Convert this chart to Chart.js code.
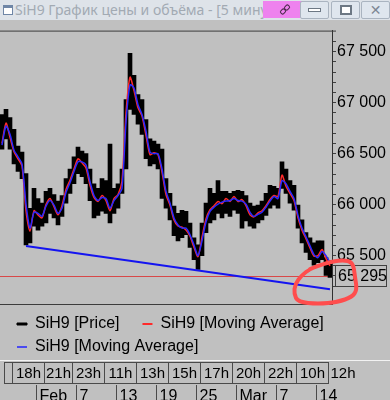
<!DOCTYPE html>
<html>
<head>
<meta charset="utf-8">
<script src="https://cdn.jsdelivr.net/npm/chart.js@4.4.1/dist/chart.umd.min.js"></script>
<style>
  body { margin: 0; width: 390px; height: 400px; overflow: hidden; background: #c0c0c0; }
  #titlebar { position: absolute; left: 0; top: 0; width: 390px; height: 20px; background: #dee3e9; overflow: hidden; }
  #titlebar .icon { position: absolute; left: 3px; top: 5px; width: 8px; height: 6px; border: 1px solid #6f86a6; border-top-width: 3px; background: #fff; }
  #titlebar .title { position: absolute; left: 15px; top: 0; line-height: 20px; font: 14px "Noto Sans", sans-serif; color: #a2aab3; white-space: nowrap; }
  #titlebar .pin { position: absolute; left: 263px; top: 1px; width: 42px; height: 17px; background: #ee82ee; }
  #titlebar .pin i { position: absolute; width: 4px; height: 3px; border: 1.5px solid #4a2a4a; border-radius: 2px; transform: rotate(-45deg); }
  .btn { position: absolute; top: 1px; width: 27px; height: 16px; border: 1px solid #aab4c0; background: #dfe6ee; border-radius: 2px; }
  .btn.min i { position: absolute; left: 7px; top: 6px; width: 11px; height: 2px; border: 1px solid #6d7884; background: #fff; }
  .btn.max i { position: absolute; left: 8px; top: 3px; width: 8px; height: 6px; border: 2px solid #6d7884; background: #fff; }
  .btn.close { font: bold 14px "DejaVu Sans", sans-serif; color: #7c8794; text-align: center; line-height: 16px; }
  #wrap { position: absolute; left: 0; top: 20px; width: 390px; height: 380px; }
</style>
</head>
<body>
<div id="titlebar">
  <div class="icon"></div>
  <div class="title">SiH9 График цены и объёма - [5 минут]</div>
  <div class="pin"><i style="left:17px;top:8px"></i><i style="left:21px;top:4px"></i></div>
  <div class="btn min" style="left:300px"><i></i></div>
  <div class="btn max" style="left:331px"><i></i></div>
  <div class="btn close" style="left:361px">✕</div>
</div>
<div id="wrap"><canvas id="chart" width="390" height="380"></canvas></div>
<script>
// 5-minute bars (high / low of each bar)
const priceHigh = [
  66885, 66935, 66855, 66740, 66575, 66515, 66305, 65965, 66160, 66060,
  66015, 66130, 66160, 66100, 66035, 66090, 66255, 66350, 66470, 66565,
  66525, 66500, 66350, 66205, 66160, 66255, 66235, 66595, 66160, 66205,
  66350, 67030, 67485, 67270, 67080, 67030, 66835, 66645, 66625, 66595,
  66545, 66255, 66110, 65985, 65915, 65945, 65935, 65820, 65675, 65605,
  65820, 66015, 66160, 66110, 66235, 66130, 66130, 66110, 66130, 66140,
  66130, 66090, 66015, 65985, 65995, 66035, 66110, 66190, 66180, 66160,
  66420, 66350, 66235, 66190, 65995, 65850, 65725, 65675, 65625, 65645,
  65645, 65480, 65450
];
const priceLow = [
  66545, 66645, 66545, 66400, 66325, 66255, 65605, 65625, 65790, 65750,
  65790, 65820, 65915, 65870, 65800, 65885, 66015, 66110, 66205, 66305,
  66275, 66205, 66040, 65870, 65895, 65935, 65915, 65820, 65915, 65965,
  66110, 66350, 66935, 66885, 66790, 66690, 66450, 66380, 66400, 66350,
  66060, 65965, 65850, 65695, 65645, 65675, 65705, 65580, 65460, 65365,
  65500, 65725, 65820, 65850, 65915, 65870, 65915, 65885, 65945, 65915,
  65770, 65840, 65790, 65770, 65820, 65850, 65895, 65965, 65995, 65965,
  66160, 66110, 66015, 65945, 65770, 65625, 65530, 65460, 65405, 65430,
  65460, 65305, 65285
];
// fast moving average (red)
const maRed = [
  66600, 66800, 66660, 66520, 66450, 66380, 65940, 65740, 65940, 65900,
  65870, 66000, 66060, 65980, 65900, 65990, 66150, 66240, 66350, 66450,
  66410, 66360, 66190, 66070, 66030, 66090, 66040, 65940, 66060, 66100,
  66230, 66900, 67250, 67120, 66950, 66870, 66680, 66490, 66510, 66490,
  66320, 66100, 65995, 65850, 65790, 65780, 65750, 65690, 65580, 65490,
  65680, 65860, 65950, 65990, 66030, 66010, 66060, 66030, 66080, 66030,
  66050, 65990, 65900, 65880, 65920, 65940, 65990, 66050, 66090, 66080,
  66290, 66180, 66110, 66040, 65870, 65750, 65665, 65575, 65495, 65500,
  65560, 65470, 65400
];
// slower moving average (blue)
const maBlue = [
  66585, 66770, 66690, 66535, 66470, 66400, 66005, 65770, 65925, 65915,
  65885, 65985, 66040, 65995, 65915, 65965, 66120, 66215, 66325, 66420,
  66420, 66390, 66225, 66090, 66040, 66070, 66060, 65965, 66040, 66090,
  66160, 66810, 67175, 67145, 66980, 66885, 66720, 66515, 66500, 66500,
  66350, 66130, 66015, 65870, 65800, 65770, 65770, 65705, 65605, 65500,
  65645, 65830, 65935, 65975, 66005, 66025, 66035, 66040, 66060, 66040,
  66035, 66005, 65925, 65885, 65905, 65925, 65975, 66035, 66080, 66060,
  66235, 66205, 66130, 66060, 65895, 65770, 65685, 65595, 65510, 65480,
  65540, 65500, 65430
];
// support line drawn by hand on the chart
const trendIdx = [6, 82];
const trendVal = [65595, 65170];
const lastPrice = 65295;
const yMin = 65025, yMax = 67708;

const hourLabels = ['', '18h', '21h', '23h', '11h', '13h', '15h', '17h', '20h', '22h', '10h', '12h'];
const hourIdx = [1, 3, 11, 18, 26, 34, 42, 50, 58, 66, 74, 82];
const dateLabels = ['Feb', '7', '13', '19', '25', 'Mar', '7', '14'];
const dateIdx = [9, 19, 29, 39, 49, 59, 69, 79];

const family = '"Liberation Sans", Arial, sans-serif';
const fmt = v => String(v).replace(/\B(?=(\d{3})+(?!\d))/g, ' ');

const labels = priceHigh.map((_, i) => i);
const trend = labels.map(i => {
  const k = trendIdx.indexOf(i);
  return k < 0 ? null : trendVal[k];
});

const terminal = {
  id: 'terminal',
  afterLayout(chart) {
    // legend sits a little right/down in the original window
    const lg = chart.legend;
    lg.left += 10; lg.right += 10;
    lg.top += 5; lg.bottom += 5;
  },
  beforeDatasetsDraw(chart) {
    const { ctx, chartArea: a, scales: { y } } = chart;
    const py = Math.round(y.getPixelForValue(lastPrice)) + 0.5;
    ctx.save();
    ctx.strokeStyle = '#d84848';
    ctx.lineWidth = 1;
    ctx.beginPath();
    ctx.moveTo(a.left, py);
    ctx.lineTo(a.right, py);
    ctx.stroke();
    ctx.restore();
  },
  afterDraw(chart) {
    const { ctx, chartArea: a, scales: { x, y } } = chart;
    ctx.save();
    ctx.lineWidth = 1;

    // plot frame
    ctx.strokeStyle = '#3c3c3c';
    ctx.beginPath();
    ctx.moveTo(a.left, a.top + 0.5); ctx.lineTo(a.right + 4, a.top + 0.5);
    ctx.moveTo(a.left, a.bottom + 0.5); ctx.lineTo(a.right, a.bottom + 0.5);
    ctx.stroke();

    // last price box on the axis
    const py = Math.round(y.getPixelForValue(lastPrice));
    ctx.fillStyle = '#c0c0c0';
    ctx.fillRect(a.right + 3, py - 10, 51, 21);
    ctx.strokeStyle = '#404040';
    ctx.strokeRect(a.right + 3.5, py - 10.5, 51, 21);
    ctx.fillStyle = '#000';
    ctx.font = '16px ' + family;
    ctx.textAlign = 'left';
    ctx.textBaseline = 'middle';
    ctx.fillText(fmt(lastPrice), a.right + 6, py + 1);

    // time axis: hour cells and date row
    const half = (x.getPixelForValue(1) - x.getPixelForValue(0)) / 2;
    const edge = i => Math.round(x.getPixelForValue(i) - half) + 0.5;
    const top = chart.height - 40;
    ctx.strokeStyle = '#f2f2f2';
    ctx.beginPath(); ctx.moveTo(0, top + 0.5); ctx.lineTo(chart.width, top + 0.5); ctx.stroke();
    ctx.strokeStyle = '#4a4a4a';
    ctx.font = '15px ' + family;
    hourIdx.forEach((k, j) => {
      const x0 = edge(k);
      if (j < hourIdx.length - 1) {
        const x1 = edge(hourIdx[j + 1]);
        ctx.strokeRect(x0, top + 2.5, x1 - x0, 21);
        ctx.textAlign = 'center';
        ctx.fillText(hourLabels[j], (x0 + x1) / 2, top + 14);
      } else {
        ctx.beginPath(); ctx.moveTo(x0, top + 2.5); ctx.lineTo(x0, top + 23.5); ctx.stroke();
        ctx.textAlign = 'left';
        ctx.fillText(hourLabels[j], x0 + 2, top + 14);
      }
    });
    ctx.font = '16px ' + family;
    ctx.textAlign = 'left';
    ctx.textBaseline = 'alphabetic';
    dateIdx.forEach((k, j) => {
      const x0 = edge(k);
      ctx.beginPath(); ctx.moveTo(x0, top + 25); ctx.lineTo(x0, chart.height); ctx.stroke();
      ctx.fillText(dateLabels[j], x0 + 3, top + 41);
    });

    // hand-drawn red loop around the last bars (offsets from the last price point)
    const ax = x.getPixelForValue(labels.length - 1);
    const loop = [[-20, -7], [-5, -13], [12, -16], [23, -14], [25, 1], [27, 14], [22, 21], [8, 26],
                  [-12, 28], [-32, 26], [-36, 18], [-35, 8], [-28, -1], [-20, -7], [-8, -12]];
    ctx.strokeStyle = '#ff4d4d';
    ctx.lineWidth = 4;
    ctx.lineCap = 'round';
    ctx.lineJoin = 'round';
    ctx.beginPath();
    ctx.moveTo(ax + loop[0][0], py + loop[0][1]);
    for (let i = 1; i < loop.length - 1; i++) {
      const mx = (loop[i][0] + loop[i + 1][0]) / 2, my = (loop[i][1] + loop[i + 1][1]) / 2;
      ctx.quadraticCurveTo(ax + loop[i][0], py + loop[i][1], ax + mx, py + my);
    }
    ctx.stroke();
    ctx.restore();
  }
};

const ctx = document.getElementById('chart').getContext('2d');
new Chart(ctx, {
  type: 'bar',
  data: {
    labels: labels,
    datasets: [
      {
        type: 'bar',
        label: 'SiH9 [Price]',
        data: priceHigh.map((h, i) => [priceLow[i], h]),
        backgroundColor: '#000',
        borderWidth: 0,
        barPercentage: 1,
        categoryPercentage: 1,
        order: 4
      },
      {
        type: 'line',
        label: 'SiH9 [Moving Average]',
        data: maRed,
        borderColor: '#ff2a2a',
        backgroundColor: '#ff2a2a',
        borderWidth: 1.5,
        pointRadius: 0,
        tension: 0.25,
        order: 3
      },
      {
        type: 'line',
        label: 'SiH9 [Moving Average]',
        data: maBlue,
        borderColor: '#2a2aff',
        backgroundColor: '#4a4af0',
        borderWidth: 1.5,
        pointRadius: 0,
        tension: 0.25,
        order: 2
      },
      {
        type: 'line',
        label: 'trend',
        data: trend,
        borderColor: '#1414f0',
        borderWidth: 2,
        pointRadius: 0,
        spanGaps: true,
        order: 1
      }
    ]
  },
  options: {
    responsive: false,
    animation: false,
    devicePixelRatio: 1,
    layout: { padding: { top: 10, left: 0, right: 0, bottom: 40 } },
    scales: {
      x: { display: false },
      y: {
        position: 'right',
        min: yMin,
        max: yMax,
        border: { color: '#303030' },
        grid: { drawOnChartArea: false, tickLength: 4, color: '#404040' },
        afterBuildTicks: s => { s.ticks = s.ticks.filter(t => t.value % 100 === 0); },
        afterFit: s => { s.width = 58; },
        ticks: {
          stepSize: 100,
          autoSkip: false,
          padding: 1,
          color: '#000',
          font: { size: 16, family: family },
          callback: v => (v % 500 === 0 ? fmt(v) : '')
        }
      }
    },
    plugins: {
      tooltip: { enabled: false },
      legend: {
        position: 'bottom',
        align: 'start',
        labels: {
          color: '#000',
          font: { size: 16, family: family },
          boxWidth: 10,
          boxHeight: 2,
          padding: 7,
          filter: item => item.datasetIndex < 3,
          sort: (a, b) => a.datasetIndex - b.datasetIndex,
          generateLabels: chart => Chart.defaults.plugins.legend.labels.generateLabels(chart).map(item => {
            item.lineWidth = item.datasetIndex === 0 ? 1 : 0;
            item.strokeStyle = item.fillStyle;
            if (item.datasetIndex === 0) item.text += '\u2003';
            return item;
          })
        }
      }
    }
  },
  plugins: [terminal]
});
</script>
</body>
</html>
